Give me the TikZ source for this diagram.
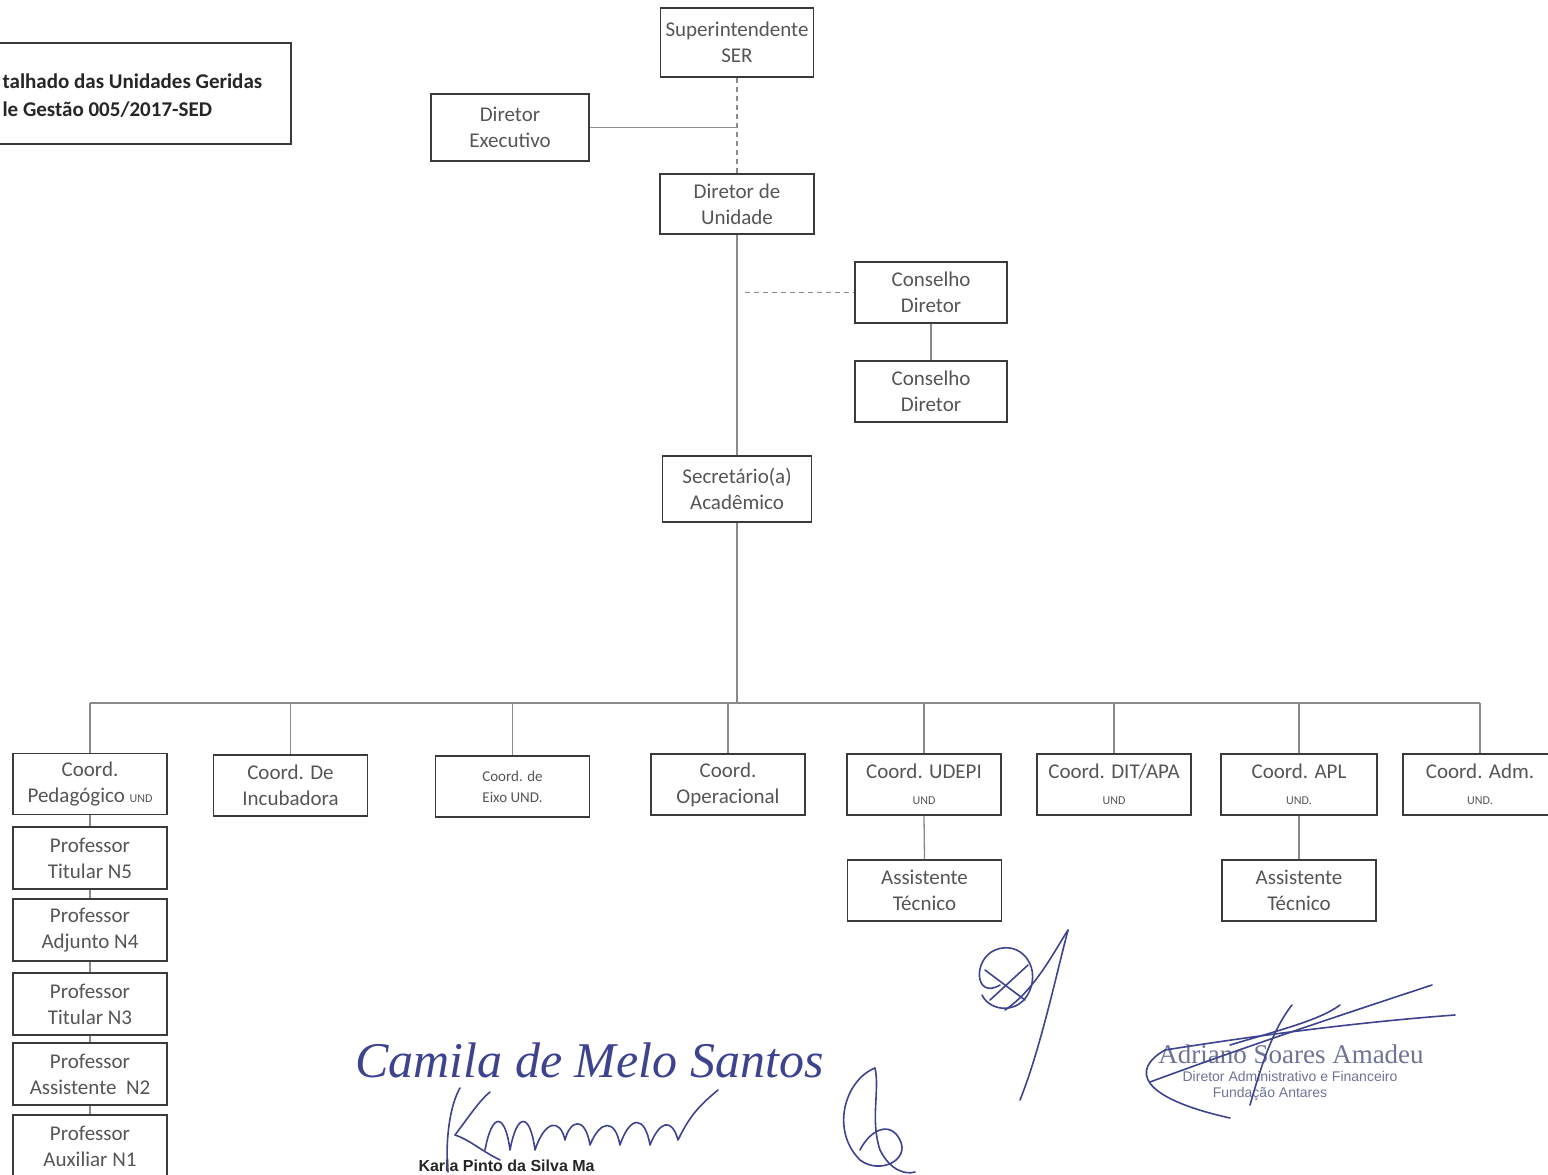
\documentclass[tikz,border=0pt]{standalone}
\usepackage{fontspec}
\setmainfont{Carlito}
\newfontfamily\stampfont{Liberation Serif}
\newfontfamily\printfont{Liberation Sans}
\usepackage{xcolor}
\definecolor{chartink}{HTML}{3A3A3A}
\definecolor{chartline}{HTML}{8A8A8A}
\definecolor{charttext}{HTML}{555555}
\definecolor{titleink}{HTML}{262626}
\definecolor{signink}{HTML}{3D438F}
\definecolor{stampink}{HTML}{6E7398}
\newcommand{\smallund}[1]{{\fontsize{12}{14}\selectfont #1}}

\begin{document}
\begin{tikzpicture}[
  x=1pt,
  y=-1pt,
  unitbox/.style={draw=chartink, line width=1.8pt, inner sep=0pt,
    minimum width=154pt, minimum height=61pt, align=center,
    text=charttext, font=\fontsize{21}{26}\selectfont},
  link/.style={draw=chartline, line width=1.3pt},
  dashlink/.style={link, dash pattern=on 5pt off 4pt},
  pen/.style={draw=signink, line width=1.6pt, line cap=round, line join=round}
]
  \useasboundingbox (0,0) rectangle (1548,1175);

  \draw[chartink, line width=1.8pt] (-20,43) rectangle (291,144);
  \node[anchor=west, align=left, text=titleink,
    font=\bfseries\fontsize{21}{28}\selectfont] (titletext) at (-1,96)
    {talhado das Unidades Geridas\\le Gestão 005/2017-SED};

  \node[unitbox, minimum width=153pt, minimum height=69pt] (ser) at (737,42.5) {Superintendente\\SER};
  \node[unitbox, minimum width=158pt, minimum height=67pt] (dexec) at (510,127.5) {Diretor\\Executivo};
  \node[unitbox, minimum height=60pt] (dunid) at (737,204) {Diretor de\\Unidade};
  \node[unitbox, minimum width=152pt] (cons1) at (931,292.5) {Conselho\\Diretor};
  \node[unitbox, minimum width=152pt] (cons2) at (931,391.5) {Conselho\\Diretor};
  \node[unitbox, minimum width=149pt, minimum height=66pt] (secac) at (737,489) {Secretário(a)\\Acadêmico};

  \node[unitbox] (cpeda) at (90,784) {Coord.\\Pedagógico \smallund{UND}};
  \node[unitbox] (cincu) at (290.5,785.5) {Coord. De\\Incubadora};
  \node[unitbox, font=\fontsize{15}{21}\selectfont] (ceixo) at (512.5,786.5) {Coord. de\\Eixo UND.};
  \node[unitbox] (coper) at (728,784.5) {Coord.\\Operacional};
  \node[unitbox] (cudepi) at (924,784.5) {Coord. UDEPI\\\smallund{UND}};
  \node[unitbox] (cdit) at (1114,784.5) {Coord. DIT/APA\\\smallund{UND}};
  \node[unitbox, minimum width=156pt] (capl) at (1299,784.5) {Coord. APL\\\smallund{UND.}};
  \node[unitbox] (cadm) at (1480,784.5) {Coord. Adm.\\\smallund{UND.}};

  \node[unitbox] (asst1) at (924.5,890.5) {Assistente\\Técnico};
  \node[unitbox] (asst2) at (1299,890.5) {Assistente\\Técnico};

  \node[unitbox, minimum height=62pt] (prof5) at (90,858) {Professor\\Titular N5};
  \node[unitbox, minimum height=62pt] (prof4) at (90,930) {Professor\\Adjunto N4};
  \node[unitbox, minimum height=62pt] (prof3) at (90,1004) {Professor\\Titular N3};
  \node[unitbox, minimum height=62pt] (prof2) at (90,1074) {Professor\\Assistente~ N2};
  \node[unitbox, minimum height=62pt] (prof1) at (90,1146) {Professor\\Auxiliar N1};

  \draw[dashlink] (ser.south) -- (dunid.north);
  \draw[link] (dexec.east) -- (dexec.east -| ser.south);
  \draw[link] (dunid.south) -- (secac.north);
  \coordinate (consjoin) at ([xshift=8pt]dunid.south |- cons1.west);
  \draw[dashlink] (consjoin) -- (cons1.west);
  \draw[link] (cons1.south) -- (cons2.north);

  \coordinate (bus) at (0,703);
  \draw[link] (secac.south) -- (secac.south |- bus);
  \draw[link] (cpeda.north |- bus) -- (cadm.north |- bus);
  \draw[link] (cpeda.north |- bus) -- (cpeda.north);
  \draw[link] (cincu.north |- bus) -- (cincu.north);
  \draw[link] (ceixo.north |- bus) -- (ceixo.north);
  \draw[link] (coper.north |- bus) -- (coper.north);
  \draw[link] (cudepi.north |- bus) -- (cudepi.north);
  \draw[link] (cdit.north |- bus) -- (cdit.north);
  \draw[link] (capl.north |- bus) -- (capl.north);
  \draw[link] (cadm.north |- bus) -- (cadm.north);

  \draw[link] (cudepi.south) -- (asst1.north);
  \draw[link] (capl.south) -- (asst2.north);

  \draw[link] (cpeda.south) -- (prof5.north);
  \draw[link] (prof5.south) -- (prof4.north);
  \draw[link] (prof4.south) -- (prof3.north);
  \draw[link] (prof3.south) -- (prof2.north);
  \draw[link] (prof2.south) -- (prof1.north);

  \node[signink, anchor=west, font=\stampfont\itshape\fontsize{50}{56}\selectfont] (camila) at (352,1060) {Camila de Melo Santos};

  \node[anchor=base west, text=black!85, font=\printfont\bfseries\fontsize{16}{18}\selectfont] (karla) at (415,1171) {Karla Pinto da Silva Ma};

  \node[stampink, font=\stampfont\fontsize{27}{29}\selectfont] (adriano) at (1291,1054) {Adriano Soares Amadeu};
  \node[stampink, font=\printfont\fontsize{14}{16}\selectfont] (adrrole) at (1290,1076) {Diretor Administrativo e Financeiro};
  \node[stampink, font=\printfont\fontsize{14}{16}\selectfont] (adrorg) at (1270,1094) {Fundação Antares};

  \draw[pen] (1000,985) .. controls (975,1000) and (972,960) .. (995,950)
    .. controls (1020,940) and (1040,965) .. (1030,990)
    .. controls (1020,1015) and (990,1012) .. (982,995);
  \draw[pen] (985,970) -- (1025,1000);
  \draw[pen] (990,1000) -- (1028,965);
  \draw[pen] (1005,1010) .. controls (1035,990) and (1055,950) .. (1068,930);
  \draw[pen] (1068,930) .. controls (1055,980) and (1040,1050) .. (1020,1100);

  \draw[pen] (448,1172) .. controls (445,1140) and (450,1105) .. (460,1088);
  \draw[pen] (455,1135) .. controls (470,1115) and (480,1100) .. (490,1092);
  \draw[pen] (455,1135) .. controls (470,1140) and (480,1150) .. (500,1160);
  \draw[pen] (485,1150) .. controls (492,1112) and (505,1112) .. (510,1150)
    .. controls (517,1112) and (530,1112) .. (535,1150)
    .. controls (545,1120) and (560,1118) .. (565,1140)
    .. controls (570,1120) and (585,1115) .. (590,1145)
    .. controls (600,1120) and (615,1118) .. (620,1145)
    .. controls (630,1115) and (645,1115) .. (650,1145)
    .. controls (660,1120) and (672,1118) .. (678,1140)
    .. controls (690,1115) and (700,1105) .. (718,1090);

  \draw[pen] (875,1068) .. controls (845,1080) and (830,1130) .. (860,1160)
    .. controls (880,1175) and (910,1160) .. (900,1140)
    .. controls (890,1120) and (870,1130) .. (860,1150);
  \draw[pen] (875,1068) .. controls (880,1090) and (870,1120) .. (880,1150)
    .. controls (890,1170) and (905,1175) .. (915,1172);

  \draw[pen] (1150,1082) .. controls (1250,1045) and (1350,1012) .. (1432,985);
  \draw[pen] (1165,1050) .. controls (1260,1035) and (1360,1022) .. (1455,1015);
  \draw[pen] (1165,1050) .. controls (1130,1070) and (1140,1098) .. (1230,1118);
  \draw[pen] (1250,1105) .. controls (1260,1070) and (1272,1030) .. (1292,1005);
  \draw[pen] (1230,1045) .. controls (1280,1030) and (1320,1020) .. (1340,1005);
\end{tikzpicture}
\end{document}
